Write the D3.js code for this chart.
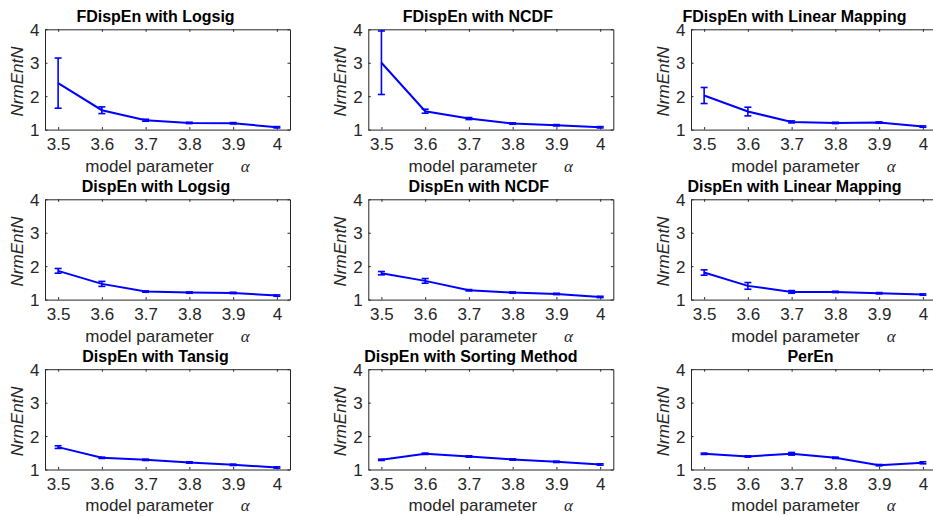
<!DOCTYPE html>
<html>
<head>
<meta charset="utf-8">
<script src="https://cdn.jsdelivr.net/npm/d3@7"></script>
<style>
  html, body { margin: 0; padding: 0; background: #fff; }
  svg { display: block; }
  text { font-family: "Liberation Sans", Arial, Helvetica, sans-serif; }
</style>
</head>
<body>
<svg id="chart" width="933" height="516"></svg>
<script>
// Model parameter values (x axis)
const alpha = [3.5, 3.6, 3.7, 3.8, 3.9, 4.0];
const xTicks = [3.5, 3.6, 3.7, 3.8, 3.9, 4];
const yTicks = [1, 2, 3, 4];

// Panel titles, row by row
const titles = [
  "FDispEn with Logsig", "FDispEn with NCDF", "FDispEn with Linear Mapping",
  "DispEn with Logsig", "DispEn with NCDF", "DispEn with Linear Mapping",
  "DispEn with Tansig", "DispEn with Sorting Method", "PerEn"
];

// Mean NrmEntN for each method
const fdispLogsigMean = [2.39, 1.58, 1.28, 1.20, 1.19, 1.07];
const fdispNcdfMean   = [3.00, 1.55, 1.33, 1.18, 1.13, 1.07];
const fdispLinearMean = [2.02, 1.54, 1.23, 1.20, 1.21, 1.09];
const dispLogsigMean  = [1.86, 1.47, 1.24, 1.21, 1.20, 1.12];
const dispNcdfMean    = [1.79, 1.56, 1.28, 1.21, 1.17, 1.08];
const dispLinearMean  = [1.81, 1.41, 1.23, 1.23, 1.19, 1.15];
const dispTansigMean  = [1.67, 1.35, 1.29, 1.21, 1.14, 1.06];
const dispSortMean    = [1.29, 1.47, 1.39, 1.30, 1.23, 1.15];
const perEnMean       = [1.47, 1.39, 1.47, 1.35, 1.13, 1.20];

// Standard deviations (error bar half-lengths)
const fdispLogsigErr = [0.75, 0.10, 0.03, 0.02, 0.02, 0.02];
const fdispNcdfErr   = [0.95, 0.06, 0.03, 0.02, 0.02, 0.02];
const fdispLinearErr = [0.24, 0.13, 0.03, 0.02, 0.02, 0.02];
const dispLogsigErr  = [0.07, 0.075, 0.02, 0.02, 0.02, 0.02];
const dispNcdfErr    = [0.05, 0.07, 0.02, 0.02, 0.02, 0.02];
const dispLinearErr  = [0.08, 0.10, 0.04, 0.02, 0.02, 0.02];
const dispTansigErr  = [0.04, 0.02, 0.02, 0.02, 0.02, 0.02];
const dispSortErr    = [0.02, 0.02, 0.02, 0.02, 0.02, 0.02];
const perEnErr       = [0.02, 0.02, 0.04, 0.02, 0.02, 0.03];

const means = [fdispLogsigMean, fdispNcdfMean, fdispLinearMean,
               dispLogsigMean, dispNcdfMean, dispLinearMean,
               dispTansigMean, dispSortMean, perEnMean];
const errs  = [fdispLogsigErr, fdispNcdfErr, fdispLinearErr,
               dispLogsigErr, dispNcdfErr, dispLinearErr,
               dispTansigErr, dispSortErr, perEnErr];

// Grid layout of the 3x3 subplots
const colLeft = [45, 368.3, 691];
const rowTop = [29.3, 199.3, 369.2];
const pw = 245, ph = 100.3;
const titleShift = [-12, -13, -19, -11.5, -12, -19, -12, -20, -3];
const axisColor = "#262626";
const lineColor = "#0000ff";
const tickLen = 2.5;

const svg = d3.select("#chart");

titles.forEach((title, i) => {
  const r = Math.floor(i / 3), c = i % 3;
  const g = svg.append("g").attr("transform", `translate(${colLeft[c]},${rowTop[r]})`);

  const x = d3.scaleLinear().domain([3.47, 4.03]).range([0, pw]);
  const y = d3.scaleLinear().domain([1, 4]).range([ph, 0]);

  // Axes with inward ticks on all four sides
  const bottom = g.append("g").attr("transform", `translate(0,${ph})`)
    .call(d3.axisBottom(x).tickValues(xTicks).tickFormat(d3.format("~g"))
      .tickSize(-tickLen).tickSizeOuter(0).tickPadding(0));
  bottom.selectAll("text").attr("dy", null).attr("y", 20.5).style("font-size", "17px");

  const left = g.append("g")
    .call(d3.axisLeft(y).tickValues(yTicks).tickFormat(d3.format("d"))
      .tickSize(-tickLen).tickSizeOuter(0).tickPadding(5.5));
  left.selectAll("text").attr("dy", "0.36em").style("font-size", "17px");

  g.append("g")
    .call(d3.axisTop(x).tickValues(xTicks).tickFormat("").tickSize(-tickLen).tickSizeOuter(0));
  g.append("g").attr("transform", `translate(${pw},0)`)
    .call(d3.axisRight(y).tickValues(yTicks).tickFormat("").tickSize(-tickLen).tickSizeOuter(0));

  g.selectAll(".domain, .tick line").attr("stroke", axisColor).attr("stroke-width", 1);
  g.selectAll(".tick text").attr("fill", axisColor);

  // Mean curve
  const pts = alpha.map((a, k) => ({ a, m: means[i][k], e: errs[i][k] }));
  g.append("path").datum(pts)
    .attr("fill", "none").attr("stroke", lineColor).attr("stroke-width", 2)
    .attr("d", d3.line().x(d => x(d.a)).y(d => y(d.m)));

  // Error bars with caps
  const capHalf = 3.5;
  const eb = g.append("g").attr("stroke", lineColor).attr("stroke-width", 1.6).attr("fill", "none");
  eb.selectAll("line.v").data(pts).join("line").attr("class", "v")
    .attr("x1", d => x(d.a)).attr("x2", d => x(d.a))
    .attr("y1", d => y(d.m + d.e)).attr("y2", d => y(d.m - d.e));
  eb.selectAll("line.t").data(pts).join("line").attr("class", "t")
    .attr("x1", d => x(d.a) - capHalf).attr("x2", d => x(d.a) + capHalf)
    .attr("y1", d => y(d.m + d.e)).attr("y2", d => y(d.m + d.e));
  eb.selectAll("line.b").data(pts).join("line").attr("class", "b")
    .attr("x1", d => x(d.a) - capHalf).attr("x2", d => x(d.a) + capHalf)
    .attr("y1", d => y(d.m - d.e)).attr("y2", d => y(d.m - d.e));

  // Title
  g.append("text").attr("x", pw / 2 + titleShift[i]).attr("y", -7)
    .attr("text-anchor", "middle").attr("fill", "#000")
    .style("font-size", "16px").style("font-weight", "bold").text(title);

  // Axis labels
  const xl = g.append("text").attr("x", pw / 2).attr("y", ph + 42)
    .attr("text-anchor", "middle").attr("fill", axisColor).style("font-size", "17px");
  xl.append("tspan").text("model parameter");
  xl.append("tspan").attr("dx", 27)
    .style("font-family", "'Liberation Serif', 'DejaVu Serif', serif")
    .style("font-style", "italic").text("α");

  g.append("text")
    .attr("transform", `translate(${-28.3},${ph / 2 + 2}) rotate(-90)`)
    .attr("text-anchor", "middle").attr("dy", "0.35em").attr("fill", axisColor)
    .style("font-size", "17px").style("font-style", "italic").text("NrmEntN");
});
</script>
</body>
</html>
